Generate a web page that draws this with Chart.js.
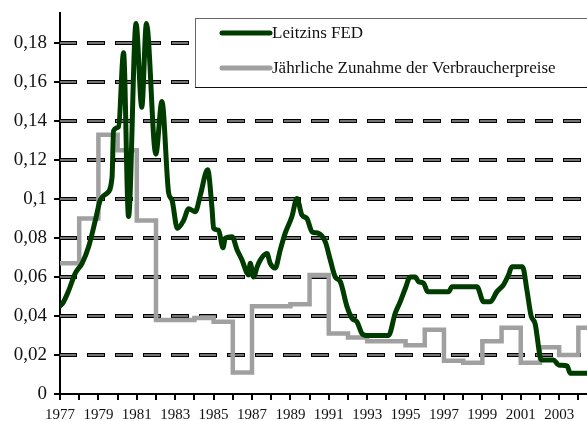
<!DOCTYPE html>
<html>
<head>
<meta charset="utf-8">
<script src="https://cdn.jsdelivr.net/npm/chart.js@4/dist/chart.umd.min.js"></script>
<style>
  html, body { margin: 0; padding: 0; background: #fff; }
  #wrap { width: 587px; height: 421px; }
</style>
</head>
<body>
<div id="wrap"><canvas id="fedChart" width="587" height="421"></canvas></div>
<script>
// Leitzins FED (decimal year, rate)
var fedYears = [1977.00, 1977.17, 1977.45, 1977.80, 1978.15, 1978.49, 1978.84, 1979.10, 1979.45, 1979.71,
  1979.79, 1980.05, 1980.31, 1980.57, 1980.96, 1981.26, 1981.50, 1981.99, 1982.31, 1982.66,
  1982.83, 1983.11, 1983.44, 1983.70, 1984.05, 1984.31, 1984.69, 1984.92, 1985.00, 1985.26,
  1985.49, 1985.61, 1985.96, 1986.22, 1986.48, 1986.74, 1986.82, 1986.91, 1987.08, 1987.26,
  1987.43, 1987.78, 1987.95, 1988.21, 1988.47, 1988.73, 1989.08, 1989.34, 1989.60, 1989.86,
  1990.13, 1990.47, 1990.82, 1991.08, 1991.34, 1991.60, 1991.95, 1992.21, 1992.47, 1992.73,
  1992.99, 1994.11, 1994.46, 1994.72, 1994.98, 1995.24, 1995.50, 1995.68, 1995.94, 1996.15,
  1997.24, 1997.42, 1998.72, 1999.06, 1999.41, 1999.76, 2000.10, 2000.36, 2000.54, 2001.09,
  2001.32, 2001.54, 2001.75, 2002.01, 2002.10, 2002.71, 2002.97, 2003.41, 2003.58, 2004.46];
var fedRates = [0.045, 0.047, 0.053, 0.062, 0.067, 0.0755, 0.089, 0.0995, 0.103, 0.111,
  0.135, 0.137, 0.175, 0.091, 0.19, 0.147, 0.19, 0.123, 0.15, 0.103,
  0.0995, 0.085, 0.089, 0.095, 0.0935, 0.102, 0.115, 0.095, 0.085, 0.084,
  0.075, 0.080, 0.0807, 0.074, 0.0687, 0.062, 0.061, 0.067, 0.060, 0.065,
  0.0687, 0.072, 0.067, 0.0646, 0.0738, 0.0825, 0.091, 0.1003, 0.0918, 0.090,
  0.0832, 0.0824, 0.078, 0.0687, 0.060, 0.0576, 0.0448, 0.0388, 0.037, 0.031,
  0.030, 0.030, 0.0414, 0.0473, 0.054, 0.060, 0.060, 0.0576, 0.0568, 0.0525,
  0.0525, 0.055, 0.055, 0.0473, 0.0473, 0.0525, 0.056, 0.061, 0.0653, 0.0653,
  0.0533, 0.040, 0.036, 0.019, 0.0174, 0.0174, 0.0149, 0.0144, 0.0106, 0.0106];

// Jaehrliche Zunahme der Verbraucherpreise, one value per year
var cpiYears = [1977, 1978, 1979, 1980, 1981, 1982, 1983, 1984, 1985, 1986, 1987, 1988, 1989, 1990,
  1991, 1992, 1993, 1994, 1995, 1996, 1997, 1998, 1999, 2000, 2001, 2002, 2003, 2004];
var cpiRates = [0.067, 0.090, 0.133, 0.125, 0.089, 0.038, 0.038, 0.039, 0.037, 0.011, 0.045, 0.045, 0.046, 0.061,
  0.031, 0.029, 0.027, 0.027, 0.025, 0.033, 0.017, 0.016, 0.027, 0.034, 0.016, 0.024, 0.020, 0.034];

var seriesLabels = ['Leitzins FED', 'Jährliche Zunahme der Verbraucherpreise'];
var yTicks = [0, 0.02, 0.04, 0.06, 0.08, 0.1, 0.12, 0.14, 0.16, 0.18];
var xTicks = [1977, 1978, 1979, 1980, 1981, 1982, 1983, 1984, 1985, 1986, 1987, 1988, 1989, 1990,
  1991, 1992, 1993, 1994, 1995, 1996, 1997, 1998, 1999, 2000, 2001, 2002, 2003, 2004];
var xLabels = ['1977', '1979', '1981', '1983', '1985', '1987', '1989', '1991', '1993', '1995',
  '1997', '1999', '2001', '2003'];

var GREEN = '#003c00';
var GREY = '#a0a0a0';
var SERIF = "'Liberation Serif', 'Times New Roman', serif";

var fedPoints = fedYears.map(function (x, i) { return { x: x, y: fedRates[i] }; });
var cpiPoints = cpiYears.map(function (x, i) { return { x: x, y: cpiRates[i] }; });
// hold the last year until the edge
cpiPoints.push({ x: cpiYears[cpiYears.length - 1] + 1, y: cpiRates[cpiRates.length - 1] });

// dashed grid: black dash with a grey core
var dashedGrid = {
  id: 'dashedGrid',
  beforeDatasetsDraw: function (chart) {
    var ctx = chart.ctx, area = chart.chartArea, y = chart.scales.y;
    ctx.save();
    yTicks.forEach(function (v) {
      if (v === 0) return;
      var py = Math.round(y.getPixelForValue(v));
      ctx.beginPath();
      ctx.setLineDash([18, 10]);
      ctx.lineWidth = 4;
      ctx.strokeStyle = '#000';
      ctx.moveTo(area.left - 1, py);
      ctx.lineTo(area.right, py);
      ctx.stroke();
      ctx.beginPath();
      ctx.setLineDash([16, 12]);
      ctx.lineWidth = 1.6;
      ctx.strokeStyle = '#9a9a9a';
      ctx.moveTo(area.left, py);
      ctx.lineTo(area.right, py);
      ctx.stroke();
    });
    ctx.restore();
  }
};

// framed legend in the upper right
var boxLegend = {
  id: 'boxLegend',
  afterDatasetsDraw: function (chart) {
    var ctx = chart.ctx;
    ctx.save();
    ctx.fillStyle = '#fff';
    ctx.fillRect(196, 18, 400, 69);
    ctx.lineWidth = 1;
    ctx.strokeStyle = '#666';
    ctx.strokeRect(195.5, 18.5, 400, 69);
    ctx.strokeStyle = '#111';
    ctx.beginPath();
    ctx.moveTo(195, 87.5);
    ctx.lineTo(587, 87.5);
    ctx.stroke();
    var rows = [33, 68];
    chart.data.datasets.forEach(function (ds, i) {
      ctx.beginPath();
      ctx.lineWidth = 5;
      ctx.lineCap = 'round';
      ctx.strokeStyle = ds.borderColor;
      ctx.moveTo(222, rows[i]);
      ctx.lineTo(270, rows[i]);
      ctx.stroke();
      ctx.fillStyle = '#111';
      ctx.font = '17px ' + SERIF;
      ctx.textBaseline = 'middle';
      ctx.textAlign = 'left';
      ctx.fillText(ds.label, 272, rows[i] + 1);
    });
    ctx.restore();
  }
};

var fedChart = new Chart(document.getElementById('fedChart'), {
  type: 'line',
  data: {
    datasets: [{
      label: seriesLabels[0],
      data: fedPoints,
      borderColor: GREEN,
      backgroundColor: GREEN,
      borderWidth: 5,
      borderCapStyle: 'round',
      borderJoinStyle: 'round',
      cubicInterpolationMode: 'monotone',
      pointRadius: 0,
      fill: false,
      order: 0
    }, {
      label: seriesLabels[1],
      data: cpiPoints,
      borderColor: GREY,
      backgroundColor: GREY,
      borderWidth: 4.5,
      borderJoinStyle: 'miter',
      stepped: true,
      pointRadius: 0,
      fill: false,
      order: 1
    }]
  },
  options: {
    responsive: false,
    animation: false,
    devicePixelRatio: 1,
    layout: { padding: { top: 13, right: 0, left: 0, bottom: 0 } },
    plugins: {
      legend: { display: false },
      tooltip: { enabled: false }
    },
    scales: {
      x: {
        type: 'linear',
        min: 1977,
        max: 2004.45,
        afterBuildTicks: function (s) { s.ticks = xTicks.map(function (v) { return { value: v }; }); },
        afterFit: function (s) { s.height = 27; s.paddingRight = 0; },
        border: { display: true, color: '#000', width: 2 },
        grid: { drawOnChartArea: false, drawTicks: true, tickLength: 6, color: '#000', lineWidth: 2 },
        ticks: {
          autoSkip: false,
          maxRotation: 0,
          padding: 6,
          color: '#111',
          font: { family: SERIF, size: 15 },
          callback: function (v) {
            var s = String(v);
            return xLabels.indexOf(s) >= 0 ? s : '';
          }
        }
      },
      y: {
        min: 0,
        max: 0.1954,
        afterBuildTicks: function (s) { s.ticks = yTicks.map(function (v) { return { value: v }; }); },
        afterFit: function (s) { s.width = 60; s.paddingTop = 0; s.paddingBottom = 0; },
        border: { display: true, color: '#000', width: 2 },
        grid: { drawOnChartArea: false, drawTicks: true, tickLength: 6, color: '#000', lineWidth: 2 },
        ticks: {
          padding: 7,
          color: '#111',
          font: { family: SERIF, size: 19 },
          callback: function (v) { return String(Math.round(v * 100) / 100).replace('.', ','); }
        }
      }
    }
  },
  plugins: [dashedGrid, boxLegend]
});
</script>
</body>
</html>
